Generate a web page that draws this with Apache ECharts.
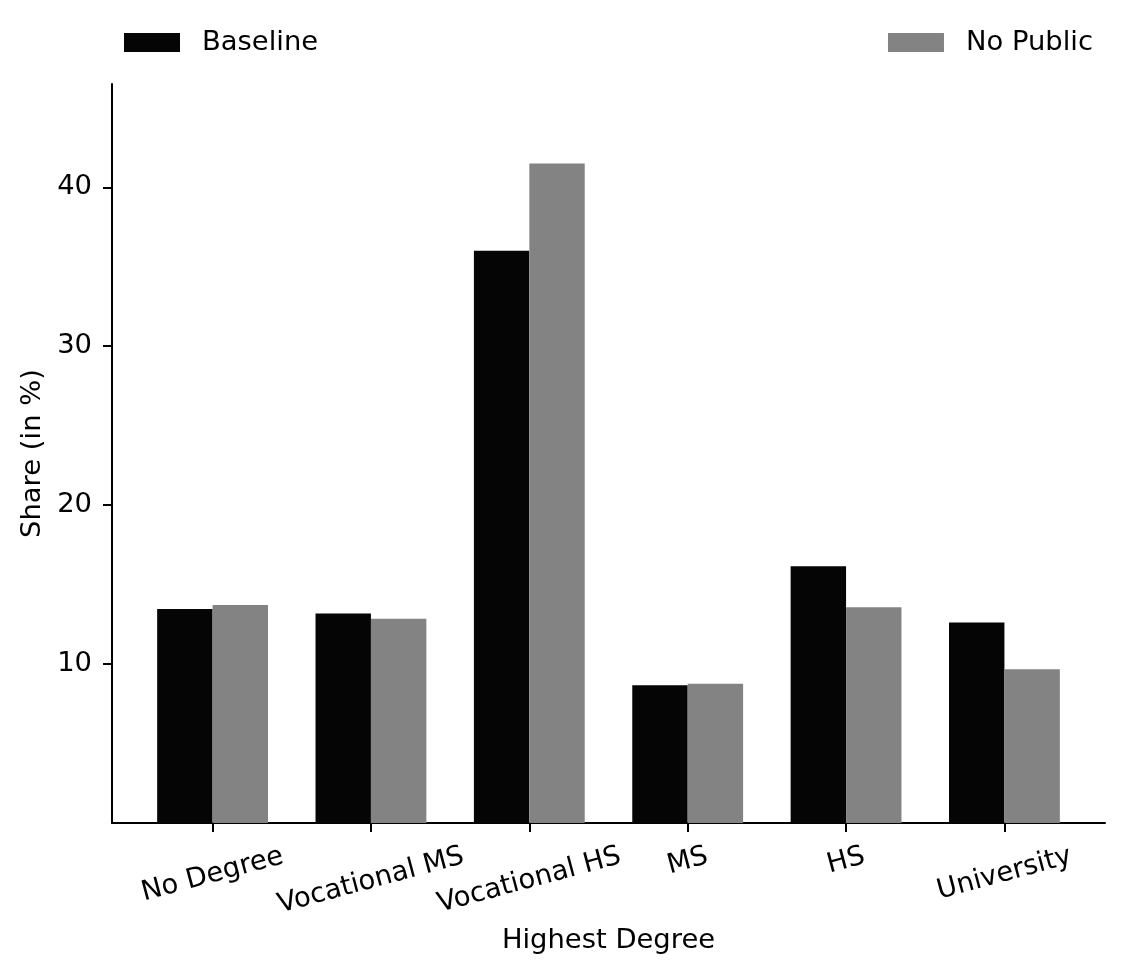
<!DOCTYPE html>
<html>
<head>
<meta charset="utf-8">
<script src="https://cdn.jsdelivr.net/npm/echarts@6/dist/echarts.min.js"></script>
<style>
html,body{margin:0;padding:0;background:#fff;}
#chart{width:1125px;height:977px;}
</style>
</head>
<body>
<div id="chart"></div>
<script>
const categories = ['No Degree', 'Vocational MS', 'Vocational HS', 'MS', 'HS', 'University'];
const baseline = [13.46, 13.19, 36.0, 8.66, 16.16, 12.62];
const noPublic = [13.71, 12.85, 41.5, 8.76, 13.57, 9.67];
const yTicks = [10, 20, 30, 40];

const FONT = 'DejaVu Sans';
const FS = 27.4;
const BAR_W = 0.35; // in category units
const catIdx = categories.map((c, i) => i);

// emulate matplotlib's rotated-label bbox alignment (top of rotated bbox fixed)
const ctx = document.createElement('canvas').getContext('2d');
ctx.font = FS + 'px "' + FONT + '"';
const A = 15 * Math.PI / 180;
const rich = {};
categories.forEach((c, i) => {
  const w = ctx.measureText(c).width;
  const p = w * Math.sin(A) * Math.cos(A) / 2;
  const q = p * Math.tan(A);
  rich['l' + i] = {fontFamily: FONT, fontSize: FS, color: '#000', padding: [2 * p, 2 * q, 0, 0]};
});

const chart = echarts.init(document.getElementById('chart'), null, {renderer: 'canvas'});
chart.setOption({
  backgroundColor: '#ffffff',
  animation: false,
  textStyle: {fontFamily: FONT},
  legend: [
    {
      data: ['Baseline'], left: 124, top: 29, padding: 0,
      itemWidth: 56, itemHeight: 19, icon: 'rect',
      textStyle: {fontFamily: FONT, fontSize: FS, color: '#000', padding: [0, 0, 0, 17]}
    },
    {
      data: ['No Public'], right: 32, top: 29, padding: 0,
      itemWidth: 56, itemHeight: 19, icon: 'rect',
      textStyle: {fontFamily: FONT, fontSize: FS, color: '#000', padding: [0, 0, 0, 17]}
    }
  ],
  grid: {left: 112, right: 20, top: 84, bottom: 154, containLabel: false},
  xAxis: {
    type: 'value', min: -0.635, max: 5.635,
    name: 'Highest Degree', nameLocation: 'middle', nameGap: 104,
    nameTextStyle: {fontFamily: FONT, fontSize: FS, color: '#000'},
    axisLine: {show: true, onZero: false, lineStyle: {color: '#000', width: 2}},
    axisTick: {show: true, length: 9, lineStyle: {color: '#000', width: 2}, customValues: catIdx},
    axisLabel: {
      customValues: catIdx, rotate: 15, align: 'center', verticalAlign: 'middle', margin: 33,
      fontFamily: FONT, fontSize: FS, color: '#000', rich: rich,
      formatter: v => { const i = Math.round(v); return '{l' + i + '|' + categories[i] + '}'; }
    },
    splitLine: {show: false}
  },
  yAxis: {
    type: 'value', min: 0, max: 46.5,
    name: 'Share (in %)', nameLocation: 'middle', nameGap: 65,
    nameTextStyle: {fontFamily: FONT, fontSize: FS, color: '#000'},
    axisLine: {show: true, onZero: false, lineStyle: {color: '#000', width: 2}},
    axisTick: {show: true, length: 9, lineStyle: {color: '#000', width: 2}, customValues: yTicks},
    axisLabel: {customValues: yTicks, margin: 20, fontFamily: FONT, fontSize: FS, color: '#000'},
    splitLine: {show: false}
  },
  series: [
    {
      name: 'Baseline', type: 'bar', barWidth: BAR_W * 158.3, barGap: '-100%',
      itemStyle: {color: '#050505'},
      data: baseline.map((v, i) => [i - BAR_W / 2, v])
    },
    {
      name: 'No Public', type: 'bar', barWidth: BAR_W * 158.3, barGap: '-100%',
      itemStyle: {color: '#838383'},
      data: noPublic.map((v, i) => [i + BAR_W / 2, v])
    }
  ]
});
</script>
</body>
</html>
